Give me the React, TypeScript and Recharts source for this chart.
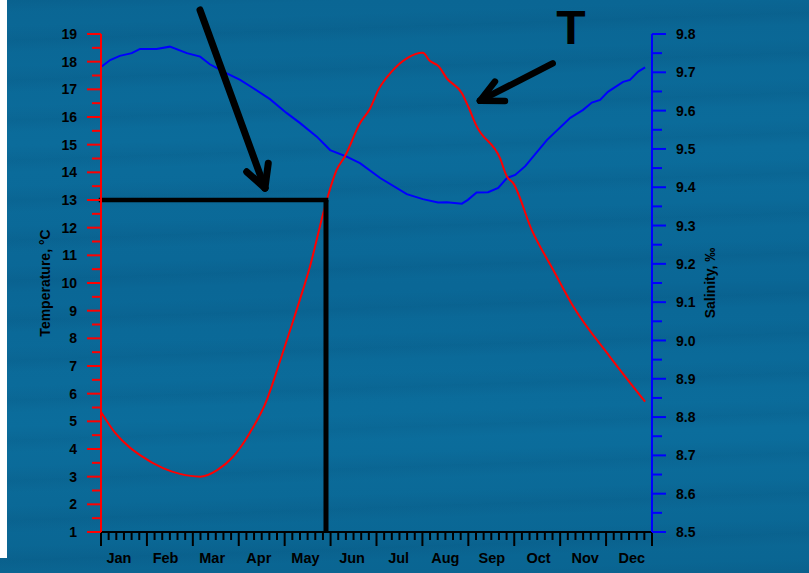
import React from "react";
import { LineChart, Line, XAxis, YAxis, ReferenceLine } from "recharts";

const months = ["Jan", "Feb", "Mar", "Apr", "May", "Jun", "Jul", "Aug", "Sep", "Oct", "Nov", "Dec"];

// temperature, °C (x = months since 1 Jan)
const tempMonth = [0, 0.3, 0.63, 0.85, 1.35, 1.72, 2.16, 2.53, 2.87, 3.24, 3.61, 3.86, 4.12, 4.33, 4.55, 4.84, 4.93, 5.13, 5.31, 5.64, 5.86, 6.04, 6.33, 6.66, 7.01, 7.16, 7.35, 7.53, 7.86, 8.0, 8.18, 8.69, 8.84, 8.98, 9.38, 9.85, 10.29, 11.08, 11.85];
const tempValue = [5.34, 4.6, 4.05, 3.78, 3.31, 3.1, 3.0, 3.24, 3.71, 4.58, 5.77, 6.98, 8.3, 9.39, 10.59, 12.52, 13.07, 14.08, 14.57, 15.77, 16.31, 16.98, 17.64, 18.12, 18.32, 18.03, 17.84, 17.4, 16.86, 16.37, 15.67, 14.51, 13.85, 13.6, 11.92, 10.47, 9.14, 7.34, 5.71];

// salinity, ‰
const salMonth = [0.015, 0.2, 0.41, 0.67, 0.85, 1.21, 1.5, 1.87, 2.16, 2.37, 2.74, 3.03, 3.31, 3.68, 4.04, 4.33, 4.7, 4.99, 5.35, 5.64, 6.08, 6.66, 7.01, 7.34, 7.53, 7.86, 7.99, 8.18, 8.43, 8.65, 8.84, 9.02, 9.24, 9.71, 10.22, 10.5, 10.69, 10.87, 11.04, 11.37, 11.52, 11.7, 11.85];
const salValue = [9.715, 9.732, 9.743, 9.75, 9.761, 9.761, 9.767, 9.75, 9.741, 9.721, 9.697, 9.68, 9.659, 9.63, 9.594, 9.568, 9.532, 9.497, 9.48, 9.463, 9.424, 9.382, 9.369, 9.36, 9.361, 9.357, 9.367, 9.386, 9.387, 9.398, 9.424, 9.432, 9.455, 9.523, 9.581, 9.602, 9.621, 9.628, 9.649, 9.675, 9.68, 9.702, 9.713];

// marked point: 13 °C reached in late May
const markMonth = 4.9;
const markTemp = 13;

// annotation arrows, in chart units [month, °C]
const arrowDown = [[2.156, 19.87], [3.571, 13.43]];
const arrowDownHead = [[[3.173, 14.02], [3.571, 13.43]], [[3.643, 14.33], [3.571, 13.43]]];
const arrowT = [[9.837, 17.94], [8.254, 16.59]];
const arrowTHead = [[[8.58, 17.28], [8.254, 16.59]], [[8.798, 16.58], [8.254, 16.59]]];

const tempData = tempMonth.map((m, i) => ({ m, t: tempValue[i] }));
const salData = salMonth.map((m, i) => ({ m, s: salValue[i] }));

const xTicks = Array.from({ length: 73 }, (_, i) => i / 6);
const tTicks = Array.from({ length: 37 }, (_, i) => 1 + i * 0.5);
const sTicks = Array.from({ length: 27 }, (_, i) => +(8.5 + i * 0.05).toFixed(2));

const font = "'Liberation Sans', Arial, sans-serif";

function LeftTick(props: any) {
  const { x, y, payload } = props;
  const v = payload.value;
  const major = Math.abs(v - Math.round(v)) < 1e-6;
  return (
    <g>
      <line x1={major ? x : x + 5} x2={x + 14} y1={y} y2={y} stroke="#ff0000" strokeWidth={2} />
      {major && (
        <text x={x - 10} y={y} dy="0.36em" textAnchor="end" fontSize={14} fontWeight="bold" fill="#000" fontFamily={font}>
          {v}
        </text>
      )}
    </g>
  );
}

function RightTick(props: any) {
  const { x, y, payload } = props;
  const v = payload.value;
  const i = Math.round((v - 8.5) / 0.05);
  const major = i % 2 === 0;
  return (
    <g>
      <line x1={x - 14} x2={major ? x : x - 4} y1={y} y2={y} stroke="#0000ff" strokeWidth={2} />
      {major && (
        <text x={x + 10} y={y} dy="0.36em" textAnchor="start" fontSize={14} fontWeight="bold" fill="#000" fontFamily={font}>
          {v.toFixed(1)}
        </text>
      )}
    </g>
  );
}

function BottomTick(props: any) {
  const { x, y, payload } = props;
  const i = Math.round(payload.value * 6);
  const major = i % 6 === 0;
  const k = (i - 3) / 6;
  return (
    <g>
      <line x1={x} x2={x} y1={y - 14} y2={major ? y : y - 6} stroke="#000" strokeWidth={2} />
      {i % 6 === 3 && (
        <text x={x - 5 + k * 0.7} y={y + 17} textAnchor="middle" fontSize={14.5} fontWeight="bold" fill="#000" fontFamily={font}>
          {months[k]}
        </text>
      )}
    </g>
  );
}

function seg(p: number[][]) {
  return [{ x: p[0][0], y: p[0][1] }, { x: p[1][0], y: p[1][1] }];
}

export default function App() {
  return (
    <div
      style={{
        position: "absolute",
        left: 0,
        top: 0,
        width: 809,
        height: 573,
        overflow: "hidden",
        background:
          "repeating-linear-gradient(178deg, rgba(0,30,60,0.07) 0px, rgba(0,30,60,0.0) 13px, rgba(255,255,255,0.0) 26px, rgba(0,30,60,0.06) 40px), linear-gradient(180deg, #0a6694 0%, #0b6c9b 25%, #0a6796 50%, #0b6d9c 75%, #0a6592 100%)",
      }}
    >
      <div style={{ position: "absolute", left: 0, top: 0, width: 7, height: 558, background: "#fff" }} />
      <div
        style={{
          position: "absolute",
          left: 551,
          top: 4,
          width: 40,
          textAlign: "center",
          fontFamily: font,
          fontWeight: "bold",
          fontSize: 48,
          lineHeight: "48px",
          color: "#000",
        }}
      >
        T
      </div>
      <LineChart width={809} height={573} margin={{ top: 34, right: 77, left: 41, bottom: 11 }}>
        <XAxis
          dataKey="m"
          type="number"
          domain={[0, 12]}
          ticks={xTicks}
          interval={0}
          allowDataOverflow
          height={30}
          tickSize={14}
          tickMargin={0}
          tickLine={false}
          tick={<BottomTick />}
          axisLine={{ stroke: "#000", strokeWidth: 2 }}
        />
        <YAxis
          yAxisId="t"
          orientation="left"
          domain={[1, 19]}
          ticks={tTicks}
          interval={0}
          allowDataOverflow
          width={60}
          tickSize={14}
          tickMargin={0}
          tickLine={false}
          tick={<LeftTick />}
          axisLine={{ stroke: "#ff0000", strokeWidth: 2 }}
          label={{
            value: "Temperature, °C",
            angle: -90,
            position: "insideLeft",
            offset: 4,
            style: { textAnchor: "middle", fontSize: 14, fontWeight: "bold", fill: "#000", fontFamily: font },
          }}
        />
        <YAxis
          yAxisId="s"
          orientation="right"
          domain={[8.5, 9.8]}
          ticks={sTicks}
          interval={0}
          allowDataOverflow
          width={80}
          tickSize={14}
          tickMargin={0}
          tickLine={false}
          tick={<RightTick />}
          axisLine={{ stroke: "#0000ff", strokeWidth: 2 }}
          label={{
            value: "Salinity, ‰",
            angle: -90,
            position: "insideLeft",
            offset: 58,
            style: { textAnchor: "middle", fontSize: 14, fontWeight: "bold", fill: "#000", fontFamily: font },
          }}
        />
        <Line
          yAxisId="s"
          data={salData}
          dataKey="s"
          type="linear"
          stroke="#0000ff"
          strokeWidth={2}
          dot={false}
          isAnimationActive={false}
        />
        <Line
          yAxisId="t"
          data={tempData}
          dataKey="t"
          type="monotone"
          stroke="#ff0000"
          strokeWidth={2}
          dot={false}
          isAnimationActive={false}
        />
        <ReferenceLine
          yAxisId="t"
          segment={[{ x: 0, y: markTemp }, { x: markMonth, y: markTemp }]}
          stroke="#000"
          strokeWidth={4.5}
          strokeLinecap="square"
          ifOverflow="visible"
        />
        <ReferenceLine
          yAxisId="t"
          segment={[{ x: markMonth, y: markTemp }, { x: markMonth, y: 1 }]}
          stroke="#000"
          strokeWidth={5}
          ifOverflow="visible"
        />
        {[arrowDown, ...arrowDownHead].map((p, i) => (
          <ReferenceLine
            key={"a" + i}
            yAxisId="t"
            segment={seg(p)}
            stroke="#000"
            strokeWidth={7}
            strokeLinecap="round"
            ifOverflow="visible"
          />
        ))}
        {[arrowT, ...arrowTHead].map((p, i) => (
          <ReferenceLine
            key={"b" + i}
            yAxisId="t"
            segment={seg(p)}
            stroke="#000"
            strokeWidth={6.5}
            strokeLinecap="round"
            ifOverflow="visible"
          />
        ))}
      </LineChart>
    </div>
  );
}
